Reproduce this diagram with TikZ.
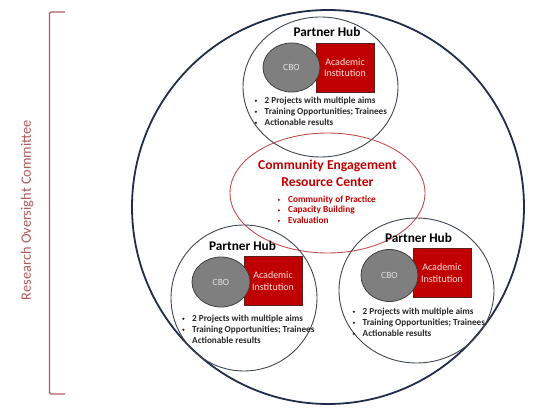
\documentclass[tikz,border=0pt]{standalone}
\usepackage{fontspec}
\setmainfont{Carlito}
\usetikzlibrary{shapes.geometric}
\definecolor{navy}{HTML}{1F2D4D}
\definecolor{hubline}{HTML}{3E4652}
\definecolor{ringred}{HTML}{C0504D}
\definecolor{txtred}{HTML}{C00000}
\definecolor{boxred}{HTML}{C00000}
\definecolor{boxedge}{HTML}{5A2020}
\definecolor{cbofill}{HTML}{7F7F7F}
\definecolor{cboedge}{HTML}{3F3F3F}
\definecolor{bracketred}{HTML}{B05A5A}
\definecolor{itemtxt}{HTML}{262626}
\tikzset{
  hub/.style={ellipse, draw=hubline, line width=0.9pt, inner sep=0pt},
  outer/.style={ellipse, draw=navy, line width=1.8pt, inner sep=0pt},
  cerc/.style={ellipse, draw=ringred, line width=0.9pt, inner sep=0pt},
  cbo/.style={ellipse, draw=cboedge, fill=cbofill, line width=0.8pt, inner sep=0pt,
    minimum width=57pt, minimum height=49pt, text=white!88!black,
    font=\fontsize{9.5}{11}\selectfont},
  inst/.style={rectangle, draw=boxedge, fill=boxred, line width=0.8pt, inner sep=0pt,
    minimum width=58pt, minimum height=49pt, align=center, text=red!12!white,
    font=\fontsize{10}{11.5}\selectfont},
  hubtitle/.style={font=\bfseries\fontsize{13.3}{15}\selectfont, text=black, inner sep=0pt},
  items/.style={anchor=north west, inner sep=0pt, align=left, text=itemtxt,
    font=\bfseries\fontsize{9.2}{11}\selectfont},
  citems/.style={anchor=north west, inner sep=0pt, align=left, text=txtred,
    font=\bfseries\fontsize{9.3}{10.5}\selectfont},
}
\newcommand{\smbul}{\raisebox{0.55ex}{\tikz[baseline]\fill (0,0) circle (1.2pt);}}
\newcommand{\hubitemlist}[1]{\begin{tabular}{@{}p{10pt}@{}l@{}}\smbul & 2 Projects with multiple aims\\ \smbul & Training Opportunities; Trainees\\ #1 & Actionable results\end{tabular}}
\begin{document}
\begin{tikzpicture}[x=1pt,y=-1pt]
\useasboundingbox (0,0) rectangle (547,409);
% outer ring
\node[outer, minimum width=392pt, minimum height=394pt] (ring) at (328,207) {};
% central resource center
\node[cerc, minimum width=195pt, minimum height=120pt] (cerc) at (327.5,193) {};
\node[font=\bfseries\fontsize{13.6}{17}\selectfont, text=txtred, align=center, inner sep=0pt] (ctitle) at (327.5,173.5) {Community Engagement\\Resource Center};
\node[citems] (clist) at (277.5,194.8) {\begin{tabular}{@{}p{10.5pt}@{}l@{}}\smbul & Community of Practice\\ \smbul & Capacity Building\\ \smbul & Evaluation\end{tabular}};
% top hub
\node[hub, minimum width=155pt, minimum height=140pt] (hubA) at (320.5,87) {};
\node[hubtitle] (titleA) at (327,32) {Partner Hub};
\node[inst] (instA) at (345,67.5) {Academic\\Institution};
\node[cbo] (cboA) at (291.5,67.5) {CBO};
\node[items] (listA) at (254.5,95.3) {\hubitemlist{\smbul}};
% bottom-left hub
\node[hub, minimum width=146pt, minimum height=146pt] (hubB) at (244,298) {};
\node[hubtitle] (titleB) at (242.5,246) {Partner Hub};
\node[inst] (instB) at (273,281) {Academic\\Institution};
\node[cbo, minimum height=50pt, minimum width=58pt] (cboB) at (221,282) {CBO};
\node[items] (listB) at (182,313.3) {\hubitemlist{}};
% bottom-right hub
\node[hub, minimum width=155pt, minimum height=145pt] (hubC) at (416.5,290.5) {};
\node[hubtitle] (titleC) at (418.5,238) {Partner Hub};
\node[inst] (instC) at (442,273) {Academic\\Institution};
\node[cbo, minimum height=52pt] (cboC) at (389.5,275.5) {CBO};
\node[items] (listC) at (352.5,306.3) {\hubitemlist{\smbul}};
% bracket
\coordinate (bt) at (65,12);
\coordinate (bb) at (65,394);
\draw[bracketred, line width=1.1pt, rounded corners=1.5pt] (bt) -- (49.5,12) -- (49.5,394) -- (bb);
\node[rotate=90, text=bracketred, font=\fontsize{14.4}{16}\selectfont, inner sep=0pt] (roc) at (27,210) {Research Oversight Committee};
\end{tikzpicture}
\end{document}
